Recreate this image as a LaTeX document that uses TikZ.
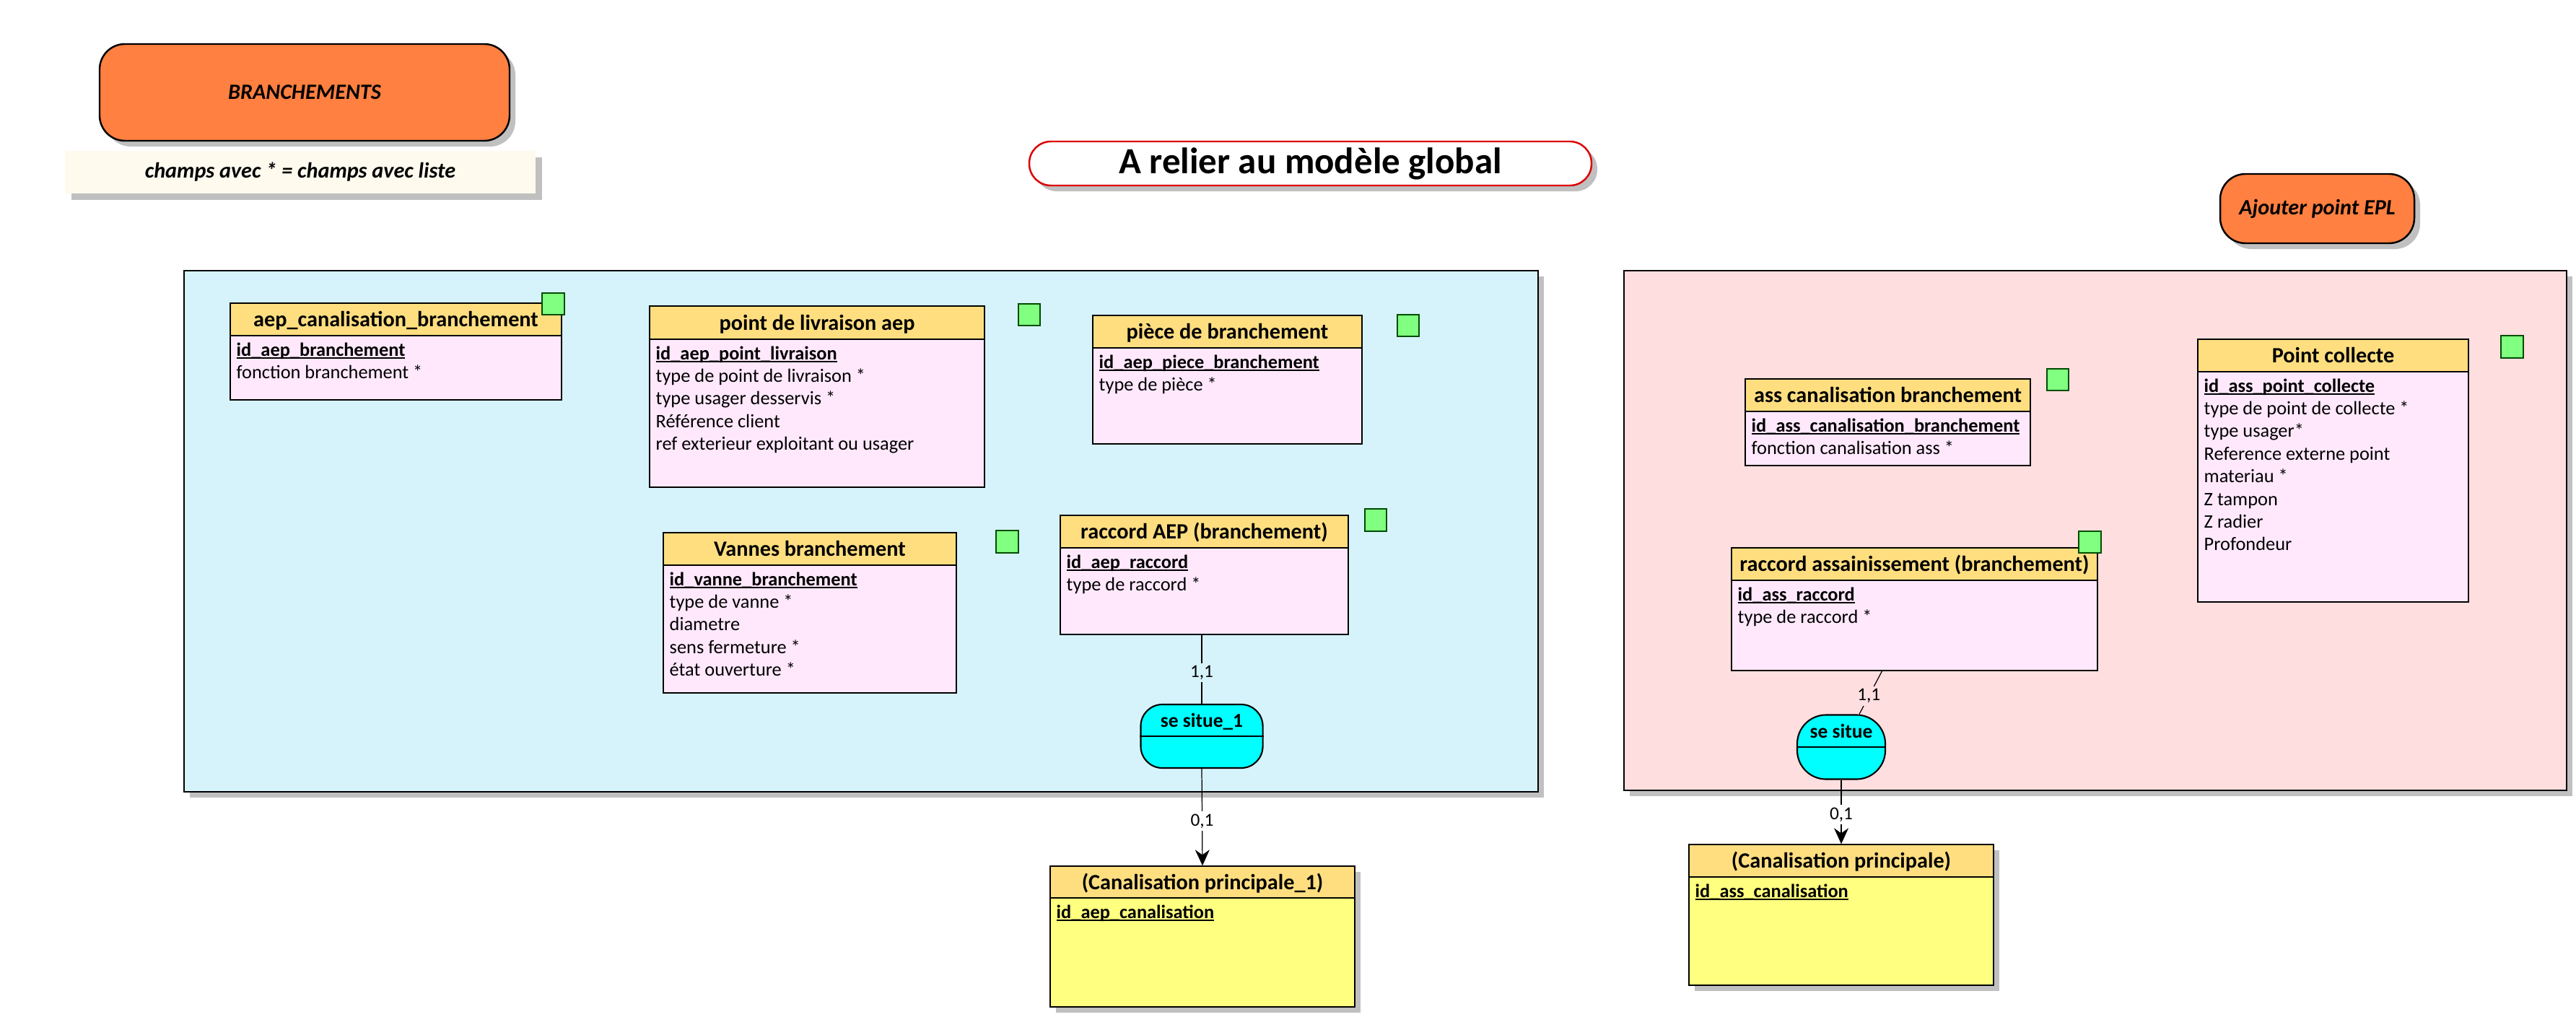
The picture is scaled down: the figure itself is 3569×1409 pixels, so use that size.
\documentclass[tikz,border=0pt]{standalone}
\usepackage{fontspec}
\setmainfont{Carlito}
\usetikzlibrary{positioning,fit,calc,shadows,arrows.meta}

\definecolor{bleupan}{RGB}{214,243,252}
\definecolor{rosepan}{RGB}{255,222,224}
\definecolor{entete}{RGB}{255,222,128}
\definecolor{corps}{RGB}{255,232,252}
\definecolor{jaune}{RGB}{255,255,128}
\definecolor{vert}{RGB}{128,255,128}
\definecolor{orangebox}{RGB}{255,128,64}
\definecolor{creme}{RGB}{254,250,238}
\definecolor{cyanrel}{RGB}{0,255,255}
\definecolor{ombregris}{RGB}{192,192,192}
\definecolor{rougetitre}{RGB}{220,0,0}

% identifiant souligne
\newcommand{\cle}[1]{\setbox0=\hbox{\bfseries #1}\rlap{\rule[-1.2pt]{\wd0}{0.5pt}}\box0}
% entite : [style] nom x1 y1 x2 y2 bas-entete titre attributs
\newcommand{\entite}[9][]{%
  \node[corps ent,#1,fit={(#3,#4) (#5,#6)}] (#2) {};
  \fill[entete] (#3,#4) rectangle (#5,#7);
  \draw[bord] (#3,#7) -- (#5,#7);
  \draw[bord] (#3,#4) rectangle (#5,#6);
  \node[titre,anchor=base] (#2-t) at ({(#3+#5)/2},{(#4+#7)/2+10}) {#8};
  \foreach \att [count=\i] in {#9}
    \node[attr,anchor=base west] (#2-a\i) at ({#3+8},{#7+28+(\i-1)*31.4}) {\att};
}

\begin{document}
\begin{tikzpicture}[x=0.01cm,y=-0.01cm,
  bord/.style={line width=0.8pt},
  corps ent/.style={fill=corps,inner sep=0pt},
  ombre/.style={drop shadow={shadow xshift=0.08cm,shadow yshift=-0.08cm,fill=ombregris,opacity=1}},
  titre/.style={font=\bfseries\fontsize{8.6}{10}\selectfont,inner sep=0pt},
  attr/.style={font=\fontsize{7.5}{9}\selectfont,inner sep=0pt},
  carre/.style={fill=vert,draw=black!70!green,line width=0.4pt},
  panneau/.style={draw,line width=0.4pt,inner sep=0pt,ombre},
  relation/.style={draw,fill=cyanrel,line width=0.6pt,rounded corners=0.3cm,inner sep=0pt},
  nomrel/.style={font=\bfseries\fontsize{7.8}{9}\selectfont,inner sep=0pt},
  card/.style={font=\fontsize{7.2}{8}\selectfont,inner sep=1pt},
  lien/.style={line width=0.35pt},
  pastille/.style={draw,fill=orangebox,line width=0.7pt,rounded corners=0.35cm,inner sep=0pt,ombre},
  note/.style={font=\bfseries\itshape\fontsize{8.6}{10}\selectfont,inner sep=0pt}]

\useasboundingbox (0,0) rectangle (3569,1409);

% Titres
  \node[pastille,fit={(138,61) (706,195)}] (branch) {};
  \node[note] (branch-t) at (branch.center) {BRANCHEMENTS};
  \node[fill=creme,inner sep=0pt,drop shadow={shadow xshift=0.09cm,shadow yshift=-0.09cm,fill=ombregris,opacity=1},fit={(90,209) (742,268)}] (legende) {};
  \node[note] (legende-t) at (legende.center) {champs avec * = champs avec liste};
  \node[draw=rougetitre,fill=white,line width=0.7pt,rounded corners=0.3cm,inner sep=0pt,ombre,fit={(1426,196) (2205,257)}] (relier) {};
  \node[font=\bfseries\fontsize{14.5}{17}\selectfont] (relier-t) at (relier.center) {A relier au modèle global};
  \node[pastille,fit={(3076,241) (3345,337)}] (epl) {};
  \node[note] (epl-t) at (epl.center) {Ajouter point EPL};

% Panneaux
  \node[panneau,fill=bleupan,fit={(255,375) (2131,1097)}] (aep) {};
  \node[panneau,fill=rosepan,fit={(2250,375) (3556,1095)}] (ass) {};

% Eau potable
  \entite{acb}{319}{420}{778}{554}{465}{aep\_canalisation\_branchement}{\cle{id\_aep\_branchement},fonction branchement *}
  \entite{pla}{900}{424}{1364}{675}{470}{point de livraison aep}{\cle{id\_aep\_point\_livraison},type de point de livraison *,type usager desservis *,Référence client,ref exterieur exploitant ou usager}
  \entite{pbr}{1514}{437}{1887}{615}{482}{pièce de branchement}{\cle{id\_aep\_piece\_branchement},type de pièce *}
  \entite{vbr}{919}{738}{1325}{960}{783}{Vannes branchement}{\cle{id\_vanne\_branchement},type de vanne *,diametre,sens fermeture *,état ouverture *}
  \entite{raep}{1469}{714}{1868}{879}{759}{raccord AEP (branchement)}{\cle{id\_aep\_raccord},type de raccord *}
  \entite[ombre,fill=jaune]{cp1}{1455}{1200}{1877}{1395}{1244}{(Canalisation principale\_1)}{\cle{id\_aep\_canalisation}}
  \draw[carre] (751,406) rectangle (782,436);
  \draw[carre] (1411,421) rectangle (1441,451);
  \draw[carre] (1936,436) rectangle (1966,466);
  \draw[carre] (1380,735) rectangle (1411,766);
  \draw[carre] (1891,705) rectangle (1921,736);

  \node[relation,minimum width=1.69cm,minimum height=0.88cm] (sesitue1) at (1665,1020) {};
  \draw[line width=0.6pt] (sesitue1.west) -- (sesitue1.east);
  \node[nomrel,anchor=base] (sesitue1-t) at ($(sesitue1.center)+(0,-13)$) {se situe\_1};

  \draw[lien] (raep.south -| sesitue1.north) -- node[card,fill=bleupan,pos=0.55] (c1) {1,1} (sesitue1.north);
  \draw[lien,-{Stealth[length=0.22cm,width=0.2cm]}] (sesitue1.south) -- node[card,fill=white,pos=0.54] (c2) {0,1} (cp1.north);

% Assainissement
  \entite{acb2}{2418}{525}{2813}{645}{570}{ass canalisation branchement}{\cle{id\_ass\_canalisation\_branchement},fonction canalisation ass *}
  \entite{pco}{3045}{470}{3420}{834}{515}{Point collecte}{\cle{id\_ass\_point\_collecte},type de point de collecte *,type usager*,Reference externe point,materiau *,Z tampon,Z radier,Profondeur}
  \entite{rass}{2399}{759}{2906}{929}{804}{raccord assainissement (branchement)}{\cle{id\_ass\_raccord},type de raccord *}
  \entite[ombre,fill=jaune]{cp2}{2340}{1170}{2762}{1365}{1215}{(Canalisation principale)}{\cle{id\_ass\_canalisation}}
  \draw[carre] (2836,511) rectangle (2866,541);
  \draw[carre] (3465,465) rectangle (3496,496);
  \draw[carre] (2880,736) rectangle (2911,766);

  \node[relation,rounded corners=0.4cm,minimum width=1.22cm,minimum height=0.89cm] (sesitue) at (2551,1035) {};
  \draw[line width=0.6pt] (sesitue.west) -- (sesitue.east);
  \node[nomrel,anchor=base] (sesitue-t) at ($(sesitue.center)+(0,-13)$) {se situe};

  \draw[lien] ($(rass.south)+(-45,0)$) -- node[card,fill=rosepan,pos=0.58] (c3) {1,1} ($(sesitue.north)+(25,0)$);
  \draw[lien,-{Stealth[length=0.22cm,width=0.2cm]}] (sesitue.south) -- node[card,fill=white,pos=0.54] (c4) {0,1} (cp2.north);
\end{tikzpicture}
\end{document}
